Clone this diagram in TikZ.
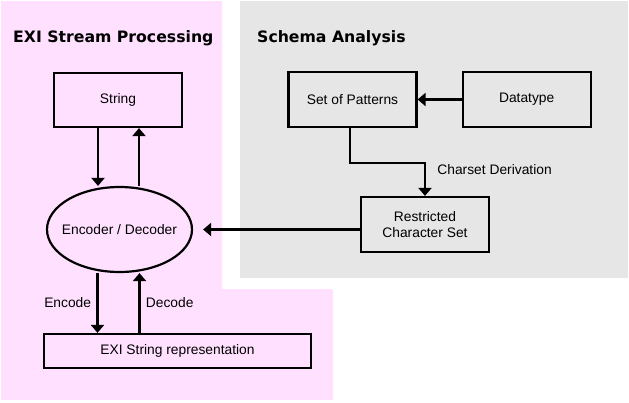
\documentclass[tikz,border=0pt]{standalone}
\usepackage{fontspec}
\setmainfont{Liberation Sans}
\newfontfamily\titlefont{DejaVu Sans}
\usepackage{xcolor}
\usepackage{tikz}
\usetikzlibrary{shapes.geometric, arrows.meta, positioning}
\definecolor{streambg}{HTML}{FFE1FF}
\definecolor{schemabg}{HTML}{E6E6E6}

\begin{document}
\begin{tikzpicture}[
    x=1pt, y=-1pt,
    box/.style={rectangle, draw, line width=2.2pt, minimum width=128pt, minimum height=55pt, font=\fontsize{13.8}{16}\selectfont},
    oval/.style={ellipse, draw, line width=2.2pt, inner sep=0pt, minimum width=145pt, minimum height=85pt, font=\fontsize{13.8}{16}\selectfont},
    arrow/.style={-{Triangle[width=13pt,length=8pt]}, line width=2.2pt},
    lbl/.style={font=\fontsize{13.8}{16}\selectfont},
    title/.style={anchor=base west, inner sep=0pt, font=\titlefont\bfseries\fontsize{15.7}{18}\selectfont}
]
    \useasboundingbox (0,0) rectangle (629,402);
    % Backgrounds
    \fill[streambg] (1,1) -- (222,1) -- (222,289) -- (333,289) -- (333,400) -- (1,400) -- cycle;
    \fill[schemabg] (240,1) rectangle (628,278);
    \node[title] (ttl1) at (13,42) {EXI Stream Processing};
    \node[title] (ttl2) at (257,42) {Schema Analysis};

    % Stream processing
    \node[box, minimum height=54pt] (str) at (118,100) {String};
    \node[oval] (codec) at (119.5,229.5) {\makebox[0pt]{Encoder / Decoder}};
    \node[box, minimum width=267pt, minimum height=34pt] (exi) at (177.5,351) {EXI String representation};
    \draw[arrow] ([xshift=-20pt]str.south) -- ([xshift=-20pt]str.south |- codec.north);
    \draw[arrow] ([xshift=21pt]str.south |- codec.north) -- ([xshift=21pt]str.south);
    \draw[arrow] ([xshift=-22pt]codec.south) -- node[lbl, left=2pt] (enc) {Encode} ([xshift=-22pt]codec.south |- exi.north);
    \draw[arrow] ([xshift=20pt]codec.south |- exi.north) -- node[lbl, right=2pt] (dec) {Decode} ([xshift=20pt]codec.south);

    % Schema analysis
    \node[box] (pat) at (352.5,99.5) {Set of Patterns};
    \node[box, right=44pt of pat] (dtype) {Datatype};
    \node[box, align=center] (rcs) at (425,224.5) {Restricted\\Character Set};
    \draw[arrow] (dtype) -- (pat);
    \draw[arrow] ([xshift=-2.5pt]pat.south) -- ++(0,35) -| node[lbl, pos=0.6, right=8pt] (deriv) {Charset Derivation} (rcs.north);
    \draw[arrow] (rcs.west |- codec.east) -- ([xshift=10pt]codec.east);
\end{tikzpicture}
\end{document}
